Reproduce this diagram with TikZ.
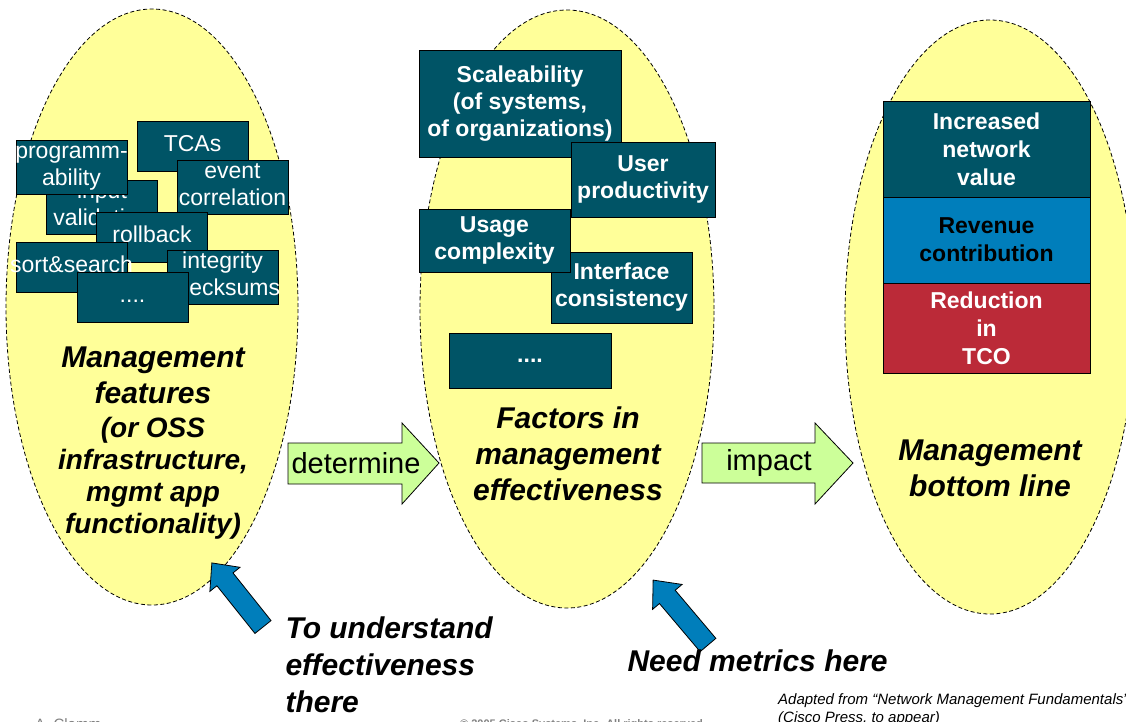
\documentclass[tikz,border=0pt]{standalone}
\usepackage{fontspec}
\setmainfont{Liberation Sans}
\usetikzlibrary{shapes.geometric}

\definecolor{mgmtteal}{RGB}{0,84,102}
\definecolor{mgmtyellow}{RGB}{255,255,153}
\definecolor{mgmtgreen}{RGB}{204,255,153}
\definecolor{mgmtblue}{RGB}{0,126,187}
\definecolor{mgmtred}{RGB}{187,42,56}

% text that may run over the edge of its box
\newcommand{\spill}[1]{\makebox[0pt]{\raisebox{-2pt}{\begin{tabular}{@{}c@{}}#1\end{tabular}}}}

\tikzset{
  blob/.style={ellipse, draw, dash pattern=on 4pt off 2.5pt, fill=mgmtyellow, line width=0.8pt, inner sep=0pt},
  featbox/.style={draw=black, fill=mgmtteal, text=white, line width=0.8pt, inner sep=0pt,
    minimum width=111pt, minimum height=50pt, font=\fontsize{23}{27}\selectfont},
  factorbox/.style={draw=black, fill=mgmtteal, text=white, line width=0.8pt, inner sep=0pt,
    align=center, font=\bfseries\fontsize{23}{27}\selectfont},
  linebox/.style={draw=black, line width=0.8pt, inner sep=0pt, minimum width=207pt,
    align=center, font=\bfseries\fontsize{23}{28}\selectfont},
  bigtext/.style={align=center, font=\bfseries\itshape\fontsize{30}{36}\selectfont},
  smalltext/.style={align=center, font=\bfseries\itshape\fontsize{28}{32}\selectfont},
  notetext/.style={align=left, font=\bfseries\itshape\fontsize{30}{37}\selectfont},
  greenarrow/.style={draw=black, fill=mgmtgreen, line width=0.8pt},
  bluearrow/.style={draw=black, fill=mgmtblue, line width=0.8pt},
}

\begin{document}
\begin{tikzpicture}[x=1pt,y=-1pt]
  \useasboundingbox (0,0) rectangle (1126,721);

  % the three areas
  \node[blob, minimum width=292pt, minimum height=596pt] (feat) at (152,307) {};
  \node[blob, minimum width=294pt, minimum height=598pt] (fact) at (567,309) {};
  \node[blob, minimum width=290pt, minimum height=594pt] (bottom) at (990,317) {};

  % management features
  \node[featbox] (tcas) at (192.5,146) {\spill{TCAs}};
  \node[featbox] (input) at (102,207) {\spill{input\\validation}};
  \node[featbox] (prog) at (71.5,167) {\spill{programm-\\ability}};
  \node[featbox] (event) at (232.5,187) {\spill{event\\correlation}};
  \node[featbox] (roll) at (152,237) {\spill{rollback}};
  \node[featbox] (sort) at (71.5,267) {\spill{sort\&search}};
  \node[featbox] (integ) at (222.5,277) {\spill{integrity\\checksums}};
  \node[featbox] (fdots) at (132.5,297) {\spill{....}};

  % factors
  \node[factorbox, minimum width=202pt, minimum height=107pt] (scale) at (520,103.5)
    {Scaleability\\(of systems,\\of organizations)};
  \node[factorbox, minimum width=144pt, minimum height=75pt] (user) at (643,179.5)
    {User\\productivity};
  \node[factorbox, minimum width=141pt, minimum height=71pt] (iface) at (621.5,287.5)
    {Interface\\consistency};
  \node[factorbox, minimum width=151pt, minimum height=63pt] (usage) at (494.5,240.5)
    {Usage\\complexity};
  \node[factorbox, minimum width=162pt, minimum height=55pt] (mdots) at (530,360.5) {....};

  % bottom line
  \node[linebox, fill=mgmtteal, text=white, minimum height=96pt] (value) at (986.5,149)
    {Increased\\network\\value};
  \node[linebox, fill=mgmtblue, text=black, minimum height=86pt] (revenue) at (986.5,240)
    {Revenue\\contribution};
  \node[linebox, fill=mgmtred, text=white, minimum height=90pt] (tco) at (986.5,328)
    {Reduction\\in\\TCO};

  % titles (base = last line)
  \node[bigtext, anchor=base] (featA) at (153,403) {Management\\features};
  \node[smalltext, anchor=base] (featB) at (153,533) {(or OSS\\infrastructure,\\mgmt app\\functionality)};
  \node[bigtext, anchor=base] (factA) at (568,500) {Factors in\\management\\effectiveness};
  \node[bigtext, anchor=base] (bottomA) at (990,496) {Management\\bottom line};

  % determine / impact
  \draw[greenarrow] (288,443) -- (402,443) -- (402,423) -- (439,463) -- (402,504)
    -- (402,484) -- (288,484) -- cycle;
  \node[font=\fontsize{29}{34}\selectfont] (determine) at (356,463.5) {determine};
  \draw[greenarrow] (702,443) -- (815,443) -- (815,423) -- (853,463) -- (815,504)
    -- (815,483) -- (702,483) -- cycle;
  \node[font=\fontsize{29}{34}\selectfont] (impact) at (769,463) {impact};

  % pointers
  \begin{scope}[shift={(263,627)}, rotate=128.6]
    \draw[bluearrow] (0,-10.3) -- (61,-10.3) -- (61,-19.3) -- (82,0) -- (61,19.3)
      -- (61,10.3) -- (0,10.3) -- cycle;
  \end{scope}
  \begin{scope}[shift={(708,645)}, rotate=130.2]
    \draw[bluearrow] (0,-10.3) -- (63,-10.3) -- (63,-19.3) -- (85,0) -- (63,19.3)
      -- (63,10.3) -- (0,10.3) -- cycle;
  \end{scope}

  \node[notetext, anchor=base west] (understand) at (282,712)
    {To understand\\effectiveness\\there};
  \node[notetext, anchor=base west] (metrics) at (624,671) {Need metrics here};

  % footer
  \node[anchor=base west, align=left, font=\itshape\fontsize{15}{18}\selectfont, inner sep=0pt] (source)
    at (778,722) {Adapted from ``Network Management Fundamentals''\\(Cisco Press, to appear)};
  \node[anchor=base west, text=gray, font=\fontsize{15}{18}\selectfont, inner sep=0pt] (author)
    at (35,729) {A. Clemm};
  \node[anchor=base west, text=gray, font=\bfseries\fontsize{11}{13}\selectfont, inner sep=0pt] (copy)
    at (460,727) {\textcopyright\ 2005 Cisco Systems, Inc. All rights reserved.};
\end{tikzpicture}
\end{document}
